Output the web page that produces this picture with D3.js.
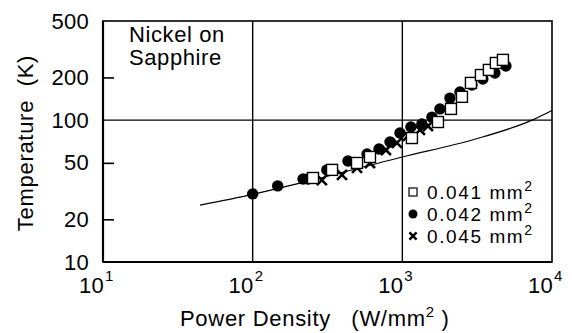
<!DOCTYPE html>
<html>
<meta charset="utf-8">
<style>
body { margin: 0; background: #fff; }
#chart { width: 572px; height: 333px; }
text { font-family: "Liberation Sans", Arial, Helvetica, sans-serif; fill: #000; }
</style>
<script src="https://d3js.org/d3.v7.min.js"></script>
<body>
<div id="chart"></div>
<script>
// values (power density W/mm^2, temperature K)
var sqP = [253, 339, 498, 608, 1159, 1730, 2113, 2502, 2873, 3350, 3787, 4217, 4700];
var sqT = [39.1, 44.6, 49.9, 55.0, 74.8, 97, 120, 146, 183, 208, 226, 253, 266];

var dotP = [100, 147, 217, 234, 313, 433, 581, 698, 827, 964, 1141, 1351, 1577, 1783, 2080, 2427, 2918, 3453, 4155, 4922];
var dotT = [30.2, 34.4, 38.5, 38.5, 44.6, 51.5, 57.8, 62.6, 70.2, 81.2, 89.6, 94, 105, 120, 143, 158, 177, 195, 215, 241];

var crossP = [290, 395, 498, 608, 777, 920, 1090, 1311, 1483];
var crossT = [37.8, 41.1, 46.1, 49.9, 61.6, 69.1, 77.4, 85.3, 91];

// thin model curve
var curveP = [44.5, 100, 207, 1000, 3000, 7350, 10000];
var curveT = [25.2, 30, 36, 55, 73, 100, 117];

var yTicks = [10, 20, 50, 100, 200, 500];
var xTicks = [10, 100, 1000, 10000];
var legendLabels = ["0.041 mm", "0.042 mm", "0.045 mm"];

var width = 572, height = 333;
var svg = d3.select("#chart").append("svg")
    .attr("width", width)
    .attr("height", height);

var x = d3.scaleLog().domain([10, 10000]).range([103, 552]);
var y = d3.scaleLog().domain([10, 500]).range([262, 21]);

var zip = function(a, b) { return a.map(function(v, i) { return [v, b[i]]; }); };

// grid lines
svg.append("g").selectAll("line")
    .data([100, 1000])
    .enter().append("line")
    .attr("x1", function(d) { return x(d); })
    .attr("x2", function(d) { return x(d); })
    .attr("y1", y(500)).attr("y2", y(10))
    .attr("stroke", "#000").attr("stroke-width", 1.4);

svg.append("line")
    .attr("x1", x(10)).attr("x2", x(10000))
    .attr("y1", y(100)).attr("y2", y(100))
    .attr("stroke", "#000").attr("stroke-width", 1.4);

// frame
svg.append("rect")
    .attr("x", x(10)).attr("y", y(500))
    .attr("width", x(10000) - x(10))
    .attr("height", y(10) - y(500))
    .attr("fill", "none").attr("stroke", "#000").attr("stroke-width", 1.6);
svg.append("line")
    .attr("x1", x(10)).attr("x2", x(10))
    .attr("y1", y(500)).attr("y2", y(10))
    .attr("stroke", "#000").attr("stroke-width", 2.2);
svg.append("line")
    .attr("x1", x(10)).attr("x2", x(10000))
    .attr("y1", y(10)).attr("y2", y(10))
    .attr("stroke", "#000").attr("stroke-width", 2.2);

// y axis ticks (inward) and labels
var yAxis = d3.axisLeft(y)
    .tickValues(yTicks)
    .tickSize(-11)
    .tickFormat(d3.format("d"));
var ya = svg.append("g")
    .attr("transform", "translate(" + x(10) + ",0)")
    .call(yAxis);
ya.select(".domain").remove();
ya.selectAll(".tick line")
    .attr("stroke-width", 1.6)
    .filter(function(d) { return d === 10 || d === 100 || d === 500; }).remove();
ya.selectAll(".tick text")
    .attr("x", -14)
    .style("font-family", "\"Liberation Sans\", Arial, sans-serif")
    .style("font-size", "22px")
    .style("letter-spacing", "0.3px");

// x axis labels 10^n
svg.append("g").selectAll("text")
    .data(xTicks)
    .enter().append("text")
    .attr("x", function(d) { return x(d) + 1; })
    .attr("y", 293)
    .attr("text-anchor", "end")
    .style("font-size", "22px")
    .style("letter-spacing", "0.3px")
    .text("10");
svg.append("g").selectAll("text")
    .data(xTicks)
    .enter().append("text")
    .attr("x", function(d) { return x(d) + 2; })
    .attr("y", 281)
    .style("font-size", "15px")
    .text(function(d) { return Math.round(Math.log10(d)); });

// axis titles
var xt = svg.append("text")
    .attr("x", 180).attr("y", 326)
    .style("font-size", "22px")
    .style("letter-spacing", "0.7px")
    .attr("xml:space", "preserve");
xt.append("tspan").text("Power Density   (W/mm");
xt.append("tspan").attr("dy", -9).style("font-size", "15px").text("2");
xt.append("tspan").attr("dy", 9).text(" )");

svg.append("text")
    .attr("transform", "translate(33,143) rotate(-90)")
    .attr("text-anchor", "middle")
    .style("font-size", "22px")
    .style("letter-spacing", "0.7px")
    .attr("xml:space", "preserve")
    .text("Temperature  (K)");

// annotation
var ann = svg.append("text").style("font-size", "22px").style("letter-spacing", "0.6px");
ann.append("tspan").attr("x", 129).attr("y", 42).text("Nickel on");
ann.append("tspan").attr("x", 129).attr("y", 65).text("Sapphire");

// model curve
var line = d3.line()
    .x(function(d) { return x(d[0]); })
    .y(function(d) { return y(d[1]); })
    .curve(d3.curveMonotoneX);
svg.append("path")
    .datum(zip(curveP, curveT))
    .attr("d", line)
    .attr("fill", "none")
    .attr("stroke", "#000")
    .attr("stroke-width", 1.2);

// markers
function drawCross(g, cx, cy, s, w) {
    g.append("path")
        .attr("d", "M" + (cx - s) + "," + (cy - s) + "L" + (cx + s) + "," + (cy + s) +
                   "M" + (cx - s) + "," + (cy + s) + "L" + (cx + s) + "," + (cy - s))
        .attr("stroke", "#000").attr("stroke-width", w).attr("fill", "none");
}

svg.append("g").selectAll("circle")
    .data(zip(dotP, dotT))
    .enter().append("circle")
    .attr("cx", function(d) { return x(d[0]); })
    .attr("cy", function(d) { return y(d[1]); })
    .attr("r", 5.7)
    .attr("fill", "#000");

var cg = svg.append("g");
zip(crossP, crossT).forEach(function(d) {
    drawCross(cg, x(d[0]), y(d[1]), 5, 2.6);
});

svg.append("g").selectAll("rect")
    .data(zip(sqP, sqT))
    .enter().append("rect")
    .attr("x", function(d) { return x(d[0]) - 5.5; })
    .attr("y", function(d) { return y(d[1]) - 5.5; })
    .attr("width", 11).attr("height", 11)
    .attr("fill", "#fff")
    .attr("stroke", "#000")
    .attr("stroke-width", 1.4);

// legend
var lx = 413, ly = [192, 214, 236];
svg.append("rect")
    .attr("x", lx - 4).attr("y", ly[0] - 4)
    .attr("width", 8).attr("height", 8)
    .attr("fill", "#fff").attr("stroke", "#000").attr("stroke-width", 1.2);
svg.append("circle").attr("cx", lx).attr("cy", ly[1]).attr("r", 4.5).attr("fill", "#000");
drawCross(svg, lx, ly[2], 3.6, 2.4);

legendLabels.forEach(function(s, i) {
    var t = svg.append("text")
        .attr("x", 427).attr("y", ly[i] + 7)
        .style("font-size", "19px")
        .style("letter-spacing", "1.6px");
    t.append("tspan").text(s);
    t.append("tspan").attr("dy", -8).style("font-size", "14px").text("2");
});
</script>
</body>
</html>
